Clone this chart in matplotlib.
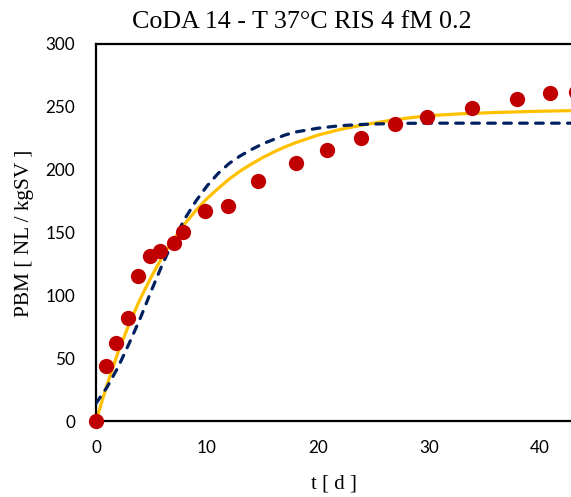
import matplotlib
matplotlib.use("Agg")
import matplotlib.pyplot as plt

# measured points
t_obs = [0, 0.9, 1.8, 2.9, 3.8, 4.9, 5.8, 7.0, 7.8, 9.8, 11.9, 14.6, 18.0, 20.8, 23.9, 26.9, 29.8, 33.9, 37.9, 40.9, 43.2]
pbm_obs = [0, 44, 62, 82, 115, 131, 135, 142, 150, 167, 171, 191, 205, 216, 225, 236, 242, 249, 256, 261, 262]

# model 1 (solid yellow)
t_fit1 = [0, 1, 2, 3, 4, 5, 6, 7, 8, 9, 10, 11, 12, 13, 14, 15, 16, 17, 18, 19, 20,
          22, 24, 26, 28, 30, 33, 36, 40, 43, 50]
pbm_fit1 = [0, 29, 55, 77.5, 97.5, 115, 131, 144.5, 157, 167.5, 177, 185, 192.5, 199, 204.5,
            209.5, 214, 218, 221.5, 224.5, 227.5, 232, 235.5, 238.5, 241, 243, 244.5, 245.5,
            246.5, 247, 247.5]

# model 2 (dashed navy)
t_fit2 = [0, 1, 2, 3, 4, 5, 6, 7, 8, 9, 10, 11, 12, 13, 14, 15, 16, 17, 18, 19, 20,
          21, 22, 23, 24, 25, 27, 30, 40, 50]
pbm_fit2 = [14, 27, 43, 62, 82, 104, 125, 144, 161, 175, 187, 197, 205, 211, 216, 220.5,
            224, 227.5, 230, 231.5, 233, 234, 235, 235.5, 236, 236.3, 236.8, 237, 237, 237]

fig = plt.figure(figsize=(5.71, 4.97), dpi=100)
ax = fig.add_axes([96 / 571, 76 / 497, 555 / 571, 377 / 497])

ax.plot(t_fit1, pbm_fit1, color="#FFC000", lw=2.3, zorder=2)
ax.plot(t_fit2, pbm_fit2, color="#002060", lw=2.3, dashes=(2.4, 2.6),
        dash_capstyle="round", zorder=3)
ax.plot(t_obs, pbm_obs, "o", color="#C00000", ms=11, mec="none", zorder=4,
        clip_on=False)

ax.set_xlim(0, 50)
ax.set_ylim(0, 300)
ax.set_xticks([0, 10, 20, 30, 40])
ax.set_yticks([0, 50, 100, 150, 200, 250, 300])
for s in ax.spines.values():
    s.set_linewidth(1.6)
    s.set_color("black")
ax.tick_params(length=0, labelsize=12.3)
ax.tick_params(axis="x", pad=14)
ax.tick_params(axis="y", pad=15)
for lab in ax.get_xticklabels() + ax.get_yticklabels():
    lab.set_family("Lato")

fig.text(302 / 571, 1 - 28 / 497, "CoDA 14 - T 37°C RIS 4 fM 0.2",
         family="Liberation Serif", fontsize=18.7, ha="center", va="baseline")
fig.text(334 / 571, 1 - 484 / 497, "t [ d ]", family="Liberation Serif",
         fontsize=15, ha="center", va="center")
fig.text(25 / 571, 1 - 233 / 497, "PBM [ NL / kgSV ]", family="Liberation Serif",
         fontsize=15.3, ha="center", va="center", rotation=90)

fig.savefig("out.png", dpi=100)
